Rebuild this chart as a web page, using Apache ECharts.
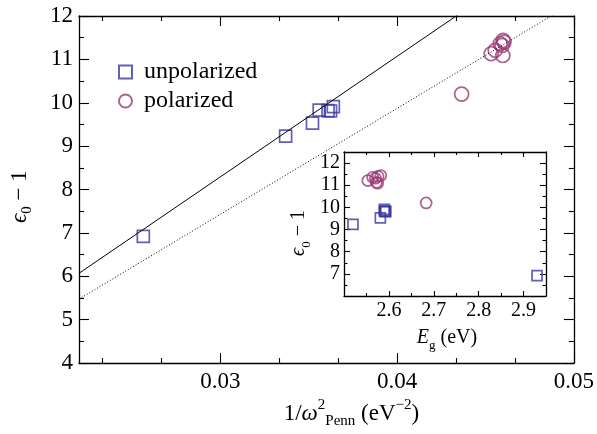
<!DOCTYPE html>
<html><head><meta charset="utf-8">
<script src="https://cdn.jsdelivr.net/npm/echarts@6/dist/echarts.min.js"></script>
<style>html,body{margin:0;padding:0;background:#fff}#c{width:597px;height:434px}</style>
</head><body><div id="c"></div>
<script>
// ---- data ----
const unpolPenn = [0.02564, 0.03369, 0.03521, 0.03559, 0.03609, 0.03623, 0.03639];
const unpolEps  = [6.92, 9.23, 9.53, 9.83, 9.82, 9.81, 9.91];
const unpolEg   = [2.930, 2.520, 2.581, 2.590, 2.593, 2.592, 2.590];
const polPenn   = [0.04365, 0.04532, 0.04555, 0.04598, 0.04583, 0.04594, 0.04605, 0.04600];
const polEps    = [10.20, 11.13, 11.21, 11.09, 11.36, 11.32, 11.40, 11.44];
const polEg     = [2.683, 2.572, 2.553, 2.575, 2.564, 2.570, 2.576, 2.582];
const solidFitX = [0.022, 0.05];
const solidFitY = [6.07, 13.85];
const dotFitX   = [0.022, 0.05];
const dotFitY   = [5.475, 12.315];
const mainXMajor = [0.03, 0.04, 0.05];
const mainXMinor = [0.02333, 0.02667, 0.03333, 0.03667, 0.04333, 0.04667];
const mainYMajor = [4, 5, 6, 7, 8, 9, 10, 11, 12];
const mainYMinor = [4.5, 5.5, 6.5, 7.5, 8.5, 9.5, 10.5, 11.5];
const insetXMajor = [2.6, 2.7, 2.8, 2.9];
const insetXMinor = [2.55, 2.65, 2.75, 2.85];
const insetYMajor = [7, 8, 9, 10, 11, 12];
const insetYMinor = [6.5, 7.5, 8.5, 9.5, 10.5, 11.5];

const FONT = 'Liberation Serif';
const BLUE = '#3838a2', PURPLE = '#9a3a76';
const zip = (a, b) => a.map((v, i) => [v, b[i]]);

function axisSet(gridIndex, posA, posB, min, max, majors, minors, majLen, minLen, label, name) {
  const base = {type: 'value', gridIndex, min, max, splitLine: {show: false}, scale: true};
  const mk = (pos, vals, len, withLabel, withLine) => Object.assign({}, base, {
    position: pos,
    axisLine: {show: withLine, onZero: false, lineStyle: {color: '#000', width: 1.3}},
    axisTick: {show: true, inside: true, length: len, customValues: vals, lineStyle: {color: '#000', width: 1.1}},
    axisLabel: withLabel ? Object.assign({show: true, customValues: majors}, label) : {show: false},
    name: withLabel && name ? name.text : '',
  }, withLabel && name ? name.opts : {});
  return [mk(posA, majors, majLen, true, true), mk(posA, minors, minLen, false, false),
          mk(posB, majors, majLen, false, true), mk(posB, minors, minLen, false, false)];
}

const mainLbl = {fontFamily: FONT, fontSize: 23, color: '#000'};
const insetLbl = {fontFamily: FONT, fontSize: 20, color: '#000'};
const rich = (fs) => ({
  n: {fontFamily: FONT, fontSize: fs, color: '#000', lineHeight: fs + 8},
  i: {fontFamily: FONT, fontSize: fs, fontStyle: 'italic', color: '#000', lineHeight: fs + 8},
  sup: {fontFamily: FONT, fontSize: Math.round(fs * 0.66), color: '#000', verticalAlign: 'top', lineHeight: Math.round(fs * 0.7)},
  sub: {fontFamily: FONT, fontSize: Math.round(fs * 0.66), color: '#000', verticalAlign: 'bottom', lineHeight: Math.round(fs * 0.75)}
});

const xAxes = [].concat(
  axisSet(0, 'bottom', 'top', 0.022, 0.05, mainXMajor, mainXMinor, 10, 5,
    Object.assign({margin: 7, formatter: v => v.toFixed(2)}, mainLbl),
    {text: '{n|1/}{i|ω}{sup|2}{sub|Penn}{n| (eV}{sup|−2}{n|)}',
     opts: {nameLocation: 'middle', nameGap: 29, nameTextStyle: {rich: rich(23), padding: [0, 0, 0, 50]}}}),
  axisSet(1, 'bottom', 'top', 2.5, 2.95, insetXMajor, insetXMinor, 5, 3,
    Object.assign({margin: 5, formatter: v => v.toFixed(1)}, insetLbl),
    {text: '{i|E}{sub|g}{n| (eV)}',
     opts: {nameLocation: 'middle', nameGap: 28, nameTextStyle: {rich: rich(20), padding: [0, 0, 0, 4]}}})
);
const yAxes = [].concat(
  axisSet(0, 'left', 'right', 4, 12, mainYMajor, mainYMinor, 10, 5,
    Object.assign({margin: 6}, mainLbl),
    {text: '{i|ϵ}{sub|0}{n| − 1}',
     opts: {nameLocation: 'middle', nameGap: 44, nameTextStyle: {rich: rich(23), padding: [0, 14, 0, 0]}}}),
  axisSet(1, 'left', 'right', 6, 12.5, insetYMajor, insetYMinor, 6, 3.5,
    Object.assign({margin: 4}, insetLbl),
    {text: '{i|ϵ}{sub|0}{n| − 1}',
     opts: {nameLocation: 'middle', nameGap: 31, nameTextStyle: {rich: rich(20), padding: [0, 18, 0, 0]}}})
);

const hollow = (c) => ({color: 'rgba(0,0,0,0)', borderColor: c, borderWidth: 1.7});
const option = {
  animation: false,
  backgroundColor: '#fff',
  grid: [
    {left: 73, top: 16, width: 502, height: 348, show: false},
    {left: 344, top: 152, width: 202, height: 144, show: false}
  ],
  xAxis: xAxes,
  yAxis: yAxes,
  legend: {
    data: ['unpolarized', 'polarized'], orient: 'vertical', left: 113, top: 55,
    itemWidth: 13, itemHeight: 13, itemGap: 5, selectedMode: false,
    textStyle: {fontFamily: FONT, fontSize: 24, lineHeight: 24, color: '#000', padding: [0, 0, 0, 7]}
  },
  series: [
    {name: 'fitSolid', type: 'line', xAxisIndex: 0, yAxisIndex: 0, data: zip(solidFitX, solidFitY),
     symbol: 'none', clip: true, silent: true, lineStyle: {color: '#000', width: 1}},
    {name: 'fitDot', type: 'line', xAxisIndex: 0, yAxisIndex: 0, data: zip(dotFitX, dotFitY),
     symbol: 'none', clip: true, silent: true, lineStyle: {color: '#000', width: 1, type: [1, 2]}},
    {name: 'unpolarized', type: 'scatter', xAxisIndex: 0, yAxisIndex: 0, data: zip(unpolPenn, unpolEps),
     symbol: 'rect', symbolSize: 12, itemStyle: hollow(BLUE), emphasis: {disabled: true}},
    {name: 'polarized', type: 'scatter', xAxisIndex: 0, yAxisIndex: 0, data: zip(polPenn, polEps),
     symbol: 'circle', symbolSize: 14, itemStyle: hollow(PURPLE), emphasis: {disabled: true}},
    {name: 'unpolarized', type: 'scatter', xAxisIndex: 4, yAxisIndex: 4, data: zip(unpolEg, unpolEps),
     symbol: 'rect', symbolSize: 10, itemStyle: hollow(BLUE), emphasis: {disabled: true}},
    {name: 'polarized', type: 'scatter', xAxisIndex: 4, yAxisIndex: 4, data: zip(polEg, polEps),
     symbol: 'circle', symbolSize: 11, itemStyle: hollow(PURPLE), emphasis: {disabled: true}}
  ]
};
const chart = echarts.init(document.getElementById('c'), null, {renderer: 'canvas'});
chart.setOption(option);
</script>
</body></html>
